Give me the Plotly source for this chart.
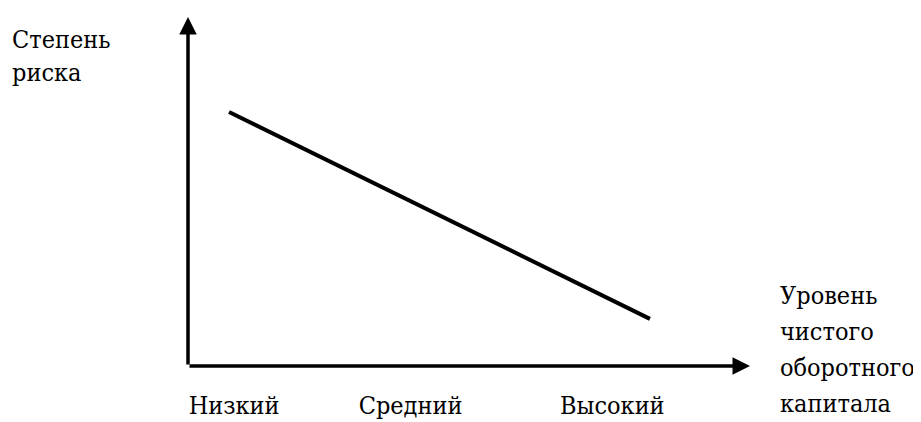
import plotly.graph_objects as go

# Data
levels = ["Низкий", "Средний", "Высокий"]
level_pos = [0.82, 3.96, 7.55]
capital = [0.73, 8.22]
risk = [7.28, 1.35]
y_title = "Степень<br>риска"
x_title_lines = ["Уровень", "чистого", "оборотного", "капитала"]

FONT = "DejaVu Serif Condensed"
FS = 25
OFF = 8  # page body margin

fig = go.Figure()
fig.add_trace(go.Scatter(
    x=capital, y=risk, mode="lines",
    line=dict(color="black", width=4),
    hoverinfo="skip", showlegend=False,
))

# axes with arrows
fig.add_annotation(x=10, y=0, ax=0, ay=0, xref="x", yref="y", axref="x", ayref="y",
                   showarrow=True, arrowhead=2, arrowsize=1, arrowwidth=3.5, arrowcolor="black", text="")
fig.add_annotation(x=0, y=10, ax=0, ay=0, xref="x", yref="y", axref="x", ayref="y",
                   showarrow=True, arrowhead=2, arrowsize=1, arrowwidth=3.5, arrowcolor="black", text="")

W, H = 921, 422
L = 188 - OFF
T = 17 - OFF
R = W - (750 - OFF)
B = H - (366 - OFF)
PW, PH = W - L - R, H - T - B


def px(xs):
    return (xs - OFF - L) / PW


def py(ys):
    return ((H - (ys - OFF)) - B) / PH


# axis titles
fig.add_annotation(x=px(10), y=py(23), xref="paper", yref="paper", text=y_title,
                   showarrow=False, xanchor="left", yanchor="top", align="left",
                   font=dict(family=FONT, size=FS, color="black"))
for i, line in enumerate(x_title_lines):
    fig.add_annotation(x=px(778), y=py(279 + 36 * i), xref="paper", yref="paper", text=line,
                       showarrow=False, xanchor="left", yanchor="top", align="left",
                       font=dict(family=FONT, size=FS, color="black"))

fig.update_layout(
    width=W, height=H,
    margin=dict(l=L, r=R, t=T, b=B, autoexpand=False),
    paper_bgcolor="white", plot_bgcolor="white",
    font=dict(family=FONT),
    xaxis=dict(range=[0, 10], showgrid=False, zeroline=False, showline=False,
               tickmode="array", tickvals=level_pos, ticktext=levels, ticks="",
               ticklabelstandoff=22,
               tickfont=dict(family=FONT, size=FS, color="black")),
    yaxis=dict(range=[0, 10], showgrid=False, zeroline=False, showline=False,
               showticklabels=False, ticks=""),
)

fig.write_html("out.html")
